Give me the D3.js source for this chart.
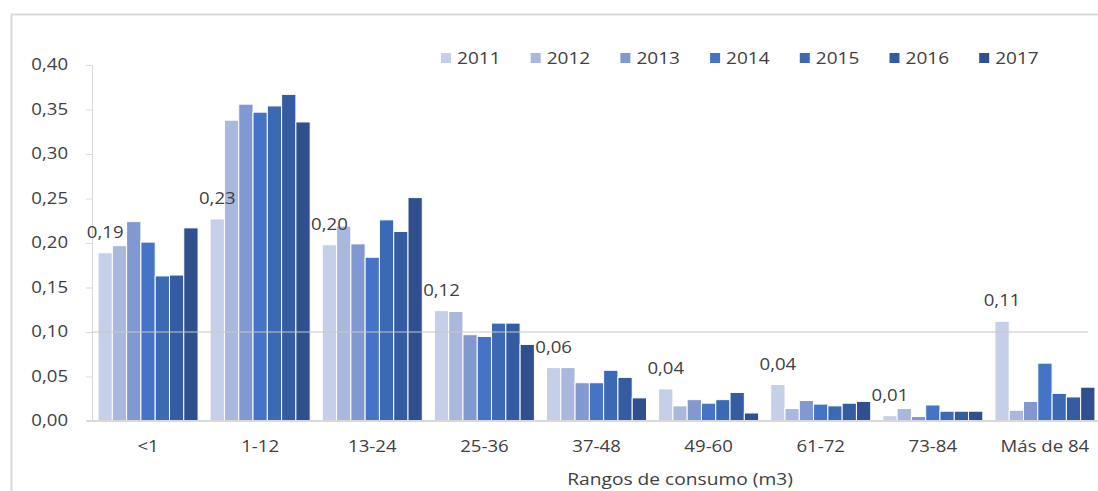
<!DOCTYPE html>
<html>
<head>
<meta charset="utf-8">
<script src="https://cdn.jsdelivr.net/npm/d3@7"></script>
<style>
  body { margin: 0; background: #fff; }
  svg text { font-family: "Open Sans", sans-serif; }
</style>
</head>
<body>
<svg id="chart"></svg>
<script>
// Data
const categories = ["<1", "1-12", "13-24", "25-36", "37-48", "49-60", "61-72", "73-84", "Más de 84"];
const years = ["2011", "2012", "2013", "2014", "2015", "2016", "2017"];
const v2011 = [0.189, 0.227, 0.198, 0.124, 0.060, 0.036, 0.041, 0.006, 0.112];
const v2012 = [0.197, 0.338, 0.219, 0.123, 0.060, 0.017, 0.014, 0.014, 0.012];
const v2013 = [0.224, 0.356, 0.199, 0.097, 0.043, 0.024, 0.023, 0.005, 0.022];
const v2014 = [0.201, 0.347, 0.184, 0.095, 0.043, 0.020, 0.019, 0.018, 0.065];
const v2015 = [0.163, 0.354, 0.226, 0.110, 0.057, 0.024, 0.017, 0.011, 0.031];
const v2016 = [0.164, 0.367, 0.213, 0.110, 0.049, 0.032, 0.020, 0.011, 0.027];
const v2017 = [0.217, 0.336, 0.251, 0.086, 0.026, 0.009, 0.022, 0.011, 0.038];
const labels2011 = ["0,19", "0,23", "0,20", "0,12", "0,06", "0,04", "0,04", "0,01", "0,11"];
const yTicks = [0, 0.05, 0.10, 0.15, 0.20, 0.25, 0.30, 0.35, 0.40];
const colors = ["#c5cfe7", "#a9b8dc", "#8199d0", "#4573c5", "#3c69b4", "#355ca0", "#2f4f8e"];

const series = [v2011, v2012, v2013, v2014, v2015, v2016, v2017];
const W = 1098, H = 491;
const stretch = 1.2;  // the source text is a bit wider than normal
const textColor = "#404040";

const svg = d3.select("#chart").attr("width", W).attr("height", H);

// outer frame
svg.append("rect")
    .attr("x", 11.5).attr("y", 14.5)
    .attr("width", W).attr("height", H)
    .attr("fill", "none").attr("stroke", "#d9d9d9").attr("stroke-width", 2);

const x0 = d3.scaleBand().domain(categories).range([92, 1101]).paddingInner(0.108).paddingOuter(0.054);
const x1 = d3.scaleBand().domain(years).range([0, x0.bandwidth()]);
const y = d3.scaleLinear().domain([0, 0.4]).range([421, 65]);
const color = d3.scaleOrdinal().domain(years).range(colors);

// y axis
const yAxis = svg.append("g")
    .attr("transform", "translate(92,0)")
    .call(d3.axisLeft(y).tickValues(yTicks).tickSize(6).tickPadding(14)
        .tickFormat(d => d3.format(".2f")(d).replace(".", ",")));
yAxis.select(".domain").attr("stroke", "#d9d9d9");
yAxis.selectAll(".tick line").attr("stroke", "#d9d9d9");
yAxis.selectAll(".tick text")
    .attr("fill", textColor).style("font-size", "15.5px")
    .attr("transform", `scale(${stretch},1)`);

// bars
const groups = svg.append("g").selectAll("g")
    .data(categories)
    .join("g")
    .attr("transform", d => `translate(${x0(d)},0)`);

groups.selectAll("rect")
    .data((c, i) => years.map((yr, j) => ({year: yr, value: series[j][i]})))
    .join("rect")
    .attr("x", d => x1(d.year))
    .attr("y", d => y(d.value))
    .attr("width", x1.bandwidth())
    .attr("height", d => y(0) - y(d.value))
    .attr("fill", d => color(d.year))
    .attr("stroke", "#fff")
    .attr("stroke-width", 1);

// the single line at 0,10
svg.append("line")
    .attr("x1", 92).attr("x2", 1088)
    .attr("y1", y(0.10)).attr("y2", y(0.10))
    .attr("stroke", "#c8c8c8").attr("stroke-width", 1.2);

// x axis
const xAxis = svg.append("g")
    .attr("transform", `translate(0,${y(0)})`)
    .call(d3.axisBottom(x0).tickSize(0).tickPadding(20));
xAxis.select(".domain").attr("d", "M86,0H1098").attr("stroke", "#d9d9d9").attr("stroke-width", 2);
xAxis.selectAll(".tick text")
    .attr("fill", textColor).style("font-size", "15.5px")
    .attr("transform", `scale(${stretch},1)`);

// data labels on the 2011 bars
svg.append("g").selectAll("text")
    .data(categories)
    .join("text")
    .attr("transform", (c, i) =>
        `translate(${x0(c) + x1("2011") + x1.bandwidth() / 2},${y(v2011[i]) - 15}) scale(${stretch},1)`)
    .attr("text-anchor", "middle")
    .attr("fill", textColor)
    .style("font-size", "15.5px")
    .text((c, i) => labels2011[i]);

// axis title
svg.append("text")
    .attr("transform", `translate(680,485) scale(${stretch},1)`)
    .attr("text-anchor", "middle")
    .attr("fill", textColor)
    .style("font-size", "16px")
    .text("Rangos de consumo (m3)");

// legend
const legend = svg.append("g").selectAll("g")
    .data(years)
    .join("g")
    .attr("transform", (d, i) => `translate(${441 + i * 89.7},0)`);
legend.append("rect")
    .attr("x", 0).attr("y", 53)
    .attr("width", 10).attr("height", 10)
    .attr("fill", d => color(d));
legend.append("text")
    .attr("transform", `translate(16,64) scale(1.12,1)`)
    .attr("fill", textColor)
    .style("font-size", "17px")
    .text(d => d);
</script>
</body>
</html>
